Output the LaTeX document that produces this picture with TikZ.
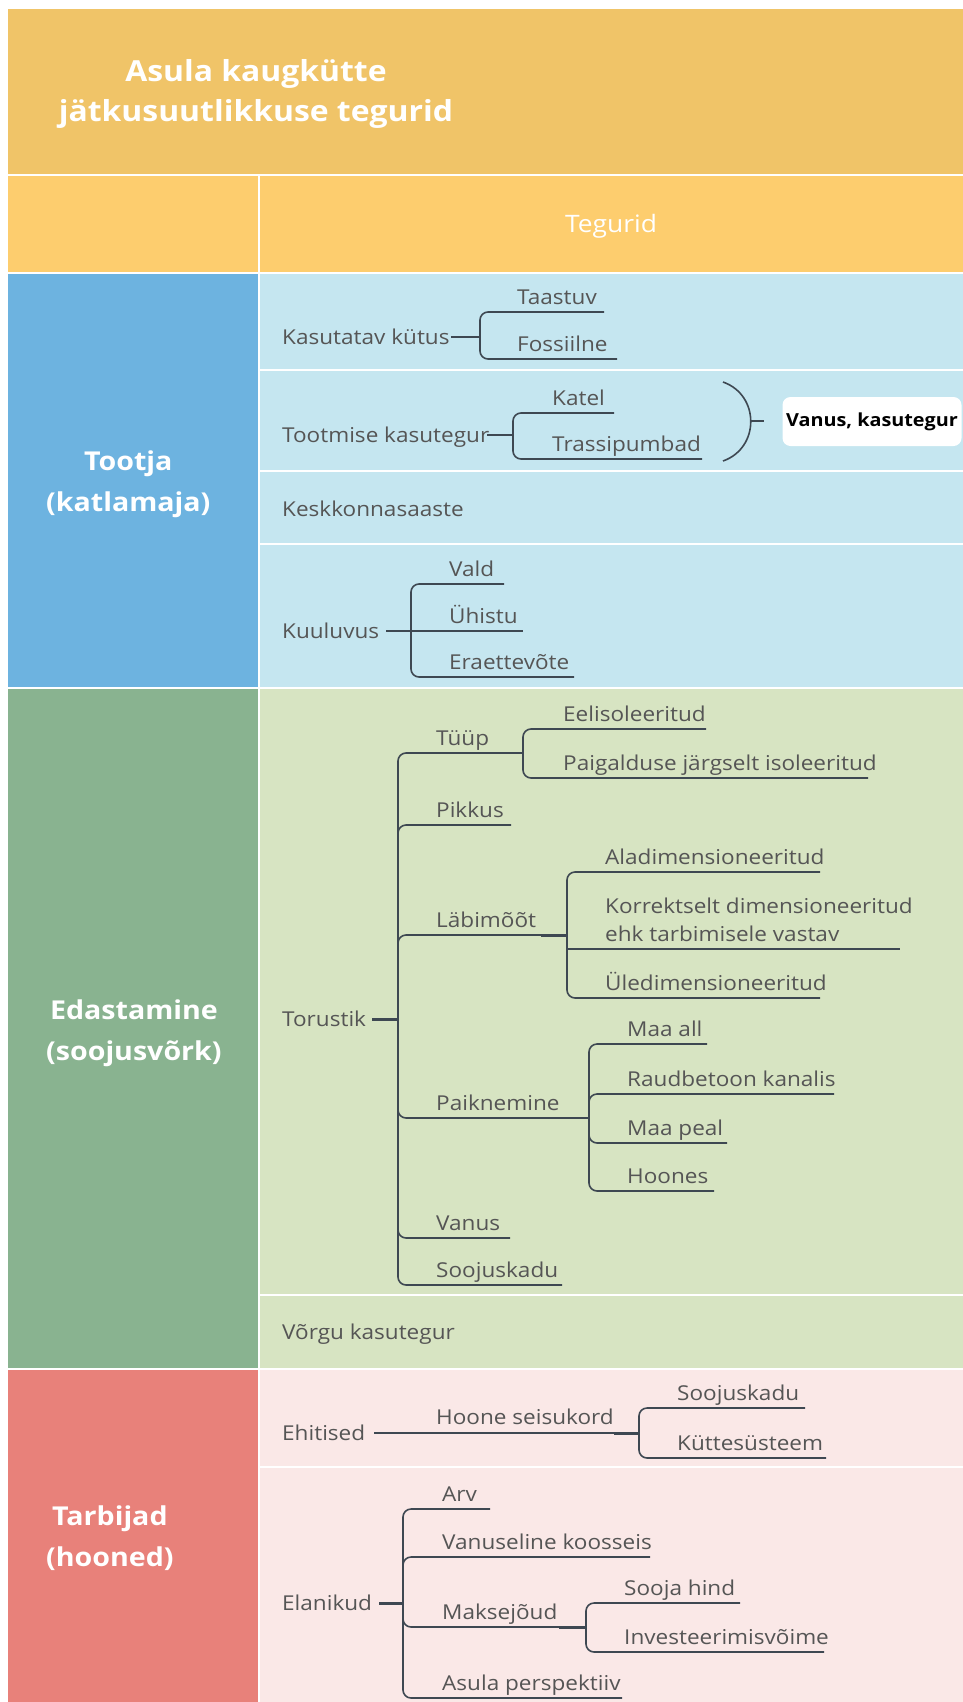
\documentclass[tikz,border=0pt]{standalone}
\usepackage{fontspec}
\setmainfont{Open Sans}[FakeStretch=1.1]
\definecolor{titlebg}{HTML}{F0C468}
\definecolor{headbg}{HTML}{FDCD6E}
\definecolor{catblue}{HTML}{6DB3E0}
\definecolor{rowblue}{HTML}{C5E6F0}
\definecolor{catgreen}{HTML}{89B390}
\definecolor{rowgreen}{HTML}{D7E4C2}
\definecolor{catred}{HTML}{E8817A}
\definecolor{rowpink}{HTML}{FAE8E7}
\definecolor{linec}{HTML}{3E4852}
\definecolor{txtc}{HTML}{555555}
\newcommand{\bodysz}{\fontsize{20.5}{28}\selectfont}
\tikzset{
  lbl/.style={anchor=base west, inner sep=0pt, text=txtc, font=\bodysz},
  tline/.style={draw=linec, line width=1.6pt, rounded corners=8pt},
  sline/.style={draw=linec, line width=1.6pt},
  stub/.style={draw=linec, line width=3pt},
  cat/.style={anchor=west, inner sep=0pt, align=center, text=white, font=\fontsize{26}{41}\selectfont\bfseries},
}
\begin{document}
\begin{tikzpicture}[x=1pt,y=-1pt]
\useasboundingbox (0,0) rectangle (963,1702);
\fill[white] (0,0) rectangle (963,1702);
% table cells
\fill[titlebg] (8,9) rectangle (963,174);
\fill[headbg] (8,176) rectangle (258,272);
\fill[headbg] (260,176) rectangle (963,272);
\fill[catblue] (8,274) rectangle (258,687);
\fill[rowblue] (260,274) rectangle (963,369);
\fill[rowblue] (260,371) rectangle (963,470);
\fill[rowblue] (260,472) rectangle (963,543);
\fill[rowblue] (260,545) rectangle (963,687);
\fill[catgreen] (8,689) rectangle (258,1368);
\fill[rowgreen] (260,689) rectangle (963,1294);
\fill[rowgreen] (260,1296) rectangle (963,1368);
\fill[catred] (8,1370) rectangle (258,1702);
\fill[rowpink] (260,1370) rectangle (963,1466);
\fill[rowpink] (260,1468) rectangle (963,1702);

% headings
\node[align=center, inner sep=0pt, text=white, font=\fontsize{29}{40}\selectfont\bfseries] (title) at (256,94) {Asula kaugkütte\\jätkusuutlikkuse tegurid};
\node[inner sep=0pt, text=white, font=\fontsize{24}{28}\selectfont] (teg) at (611,226) {Tegurid};
\node[cat] (tootja) at (46,484) {Tootja\\(katlamaja)};
\node[cat] (edast) at (46,1033) {Edastamine\\(soojusvõrk)};
\node[cat] (tarb) at (46,1538) {Tarbijad\\(hooned)};

% ---- Kasutatav kütus
\node[lbl] (kk) at (282,344) {Kasutatav kütus};
\coordinate (kk-j) at (480,337);
\draw[sline] ([xshift=1pt]kk.east |- kk-j) -- (kk-j);
\node[lbl] (taastuv) at (517,304) {Taastuv};
\coordinate (taastuv-e) at (604,312);
\draw[tline] (kk-j) |- (taastuv-e);
\node[lbl] (fossiilne) at (517,351) {Fossiilne};
\coordinate (fossiilne-e) at (617,359);
\draw[tline] (kk-j) |- (fossiilne-e);

% ---- Tootmise kasutegur
\node[lbl] (tk) at (282,442) {Tootmise kasutegur};
\coordinate (tk-j) at (513,435);
\draw[sline] ([xshift=-2pt]tk.east |- tk-j) -- (tk-j);
\node[lbl] (katel) at (552,405) {Katel};
\coordinate (katel-e) at (614,413);
\draw[tline] (tk-j) |- (katel-e);
\node[lbl] (trassi) at (552,451) {Trassipumbad};
\coordinate (trassi-e) at (702,459);
\draw[tline] (tk-j) |- (trassi-e);
\coordinate (par-t) at (723,382);
\coordinate (par-b) at (723,461);
\coordinate (par-m) at (750,421);
\draw[sline] (par-t) .. controls (760,395) and (760,448) .. (par-b);
\node[draw=none, fill=white, rounded corners=8pt, minimum width=179pt, minimum height=49pt, inner xsep=2pt, text=black, font=\fontsize{18}{22}\selectfont\bfseries] (vg) at (872,421.5) {Vanus, kasutegur};
\coordinate (par-s) at (764,421);
\draw[sline] (par-m) -- (par-s);

% ---- Keskkonnasaaste
\node[lbl] (ks) at (282,516) {Keskkonnasaaste};

% ---- Kuuluvus
\node[lbl] (ku) at (282,638) {Kuuluvus};
\coordinate (ku-j) at (411,631);
\draw[sline] ([xshift=7pt]ku.east |- ku-j) -- (ku-j);
\node[lbl] (vald) at (449,576) {Vald};
\coordinate (vald-e) at (504,584);
\draw[tline] (ku-j) |- (vald-e);
\node[lbl] (uhistu) at (449,623) {Ühistu};
\coordinate (uhistu-e) at (523,631);
\draw[sline] (ku-j) -- (uhistu-e);
\node[lbl] (era) at (449,669) {Eraettevõte};
\coordinate (era-e) at (574,677);
\draw[tline] (ku-j) |- (era-e);

% ---- Torustik
\node[lbl] (tor) at (282,1026) {Torustik};
\coordinate (tor-j) at (398,1019);
\draw[stub] ([xshift=6pt]tor.east |- tor-j) -- (tor-j);
% Tüüp
\node[lbl] (tuup) at (436,745) {Tüüp};
\coordinate (tuup-j) at (523,753);
\draw[tline] (tor-j) |- (tuup-j);
\node[lbl] (eelis) at (563,721) {Eelisoleeritud};
\coordinate (eelis-e) at (706,729);
\draw[tline] (tuup-j) |- (eelis-e);
\node[lbl] (paig) at (563,770) {Paigalduse järgselt isoleeritud};
\coordinate (paig-e) at (868,778);
\draw[tline] (tuup-j) |- (paig-e);
% Pikkus
\node[lbl] (pikkus) at (436,817) {Pikkus};
\coordinate (pikkus-e) at (511,825);
\draw[tline] (tor-j) |- (pikkus-e);
% Läbimõõt
\node[lbl] (labi) at (436,927) {Läbimõõt};
\coordinate (labi-j) at (567,935);
\coordinate (labi-k) at (541,935);
\draw[tline] (tor-j) |- (labi-j);
\draw[stub] (labi-k) -- (labi-j);
\node[lbl] (alad) at (605,864) {Aladimensioneeritud};
\coordinate (alad-e) at (820,872);
\draw[tline] (labi-j) |- (alad-e);
\node[lbl, align=left, font=\fontsize{20.5}{28}\selectfont] (korr) at (605,941) {Korrektselt dimensioneeritud\\ehk tarbimisele vastav};
\coordinate (korr-e) at (900,949);
\draw[sline] (labi-j) |- (korr-e);
\node[lbl] (uled) at (605,990) {Üledimensioneeritud};
\coordinate (uled-e) at (820,998);
\draw[tline] (labi-j) |- (uled-e);
% Paiknemine
\node[lbl] (paik) at (436,1110) {Paiknemine};
\coordinate (paik-j) at (589,1118);
\draw[tline] (tor-j) |- (paik-j);
\node[lbl] (maaall) at (627,1036) {Maa all};
\coordinate (maaall-e) at (707,1044);
\draw[tline] (paik-j) |- (maaall-e);
\node[lbl] (raud) at (627,1086) {Raudbetoon kanalis};
\coordinate (raud-e) at (834,1094);
\draw[tline] (paik-j) |- (raud-e);
\node[lbl] (maapeal) at (627,1135) {Maa peal};
\coordinate (maapeal-e) at (727,1143);
\draw[tline] (paik-j) |- (maapeal-e);
\node[lbl] (hoones) at (627,1183) {Hoones};
\coordinate (hoones-e) at (714,1191);
\draw[tline] (paik-j) |- (hoones-e);
% Vanus, Soojuskadu
\node[lbl] (vanus) at (436,1230) {Vanus};
\coordinate (vanus-e) at (510,1238);
\draw[tline] (tor-j) |- (vanus-e);
\node[lbl] (sk) at (436,1277) {Soojuskadu};
\coordinate (sk-e) at (562,1285);
\draw[tline] (tor-j) |- (sk-e);

% ---- Võrgu kasutegur
\node[lbl] (vk) at (282,1339) {Võrgu kasutegur};

% ---- Ehitised
\node[lbl] (eh) at (282,1440) {Ehitised};
\coordinate (hs-j) at (639,1433);
\coordinate (hs-k) at (614,1433);
\draw[sline] ([xshift=9pt]eh.east |- hs-j) -- (hs-j);
\draw[stub] (hs-k) -- (hs-j);
\node[lbl] (hs) at (436,1424) {Hoone seisukord};
\node[lbl] (sk2) at (677,1400) {Soojuskadu};
\coordinate (sk2-e) at (805,1408);
\draw[tline] (hs-j) |- (sk2-e);
\node[lbl] (kutte) at (677,1450) {Küttesüsteem};
\coordinate (kutte-e) at (826,1458);
\draw[tline] (hs-j) |- (kutte-e);

% ---- Elanikud
\node[lbl] (el) at (282,1610) {Elanikud};
\coordinate (el-j) at (403,1603);
\draw[stub] ([xshift=7pt]el.east |- el-j) -- (el-j);
\node[lbl] (arv) at (442,1501) {Arv};
\coordinate (arv-e) at (490,1509);
\draw[tline] (el-j) |- (arv-e);
\node[lbl] (vanusel) at (442,1549) {Vanuseline koosseis};
\coordinate (vanusel-e) at (650,1557);
\draw[tline] (el-j) |- (vanusel-e);
\node[lbl] (maks) at (442,1619) {Maksejõud};
\coordinate (maks-j) at (586,1627);
\coordinate (maks-k) at (559,1627);
\draw[tline] (el-j) |- (maks-j);
\draw[stub] (maks-k) -- (maks-j);
\node[lbl] (sooja) at (624,1595) {Sooja hind};
\coordinate (sooja-e) at (740,1603);
\draw[tline] (maks-j) |- (sooja-e);
\node[lbl] (inv) at (624,1644) {Investeerimisvõime};
\coordinate (inv-e) at (824,1652);
\draw[tline] (maks-j) |- (inv-e);
\node[lbl] (asula) at (442,1690) {Asula perspektiiv};
\coordinate (asula-e) at (622,1698);
\draw[tline] (el-j) |- (asula-e);
\end{tikzpicture}
\end{document}
